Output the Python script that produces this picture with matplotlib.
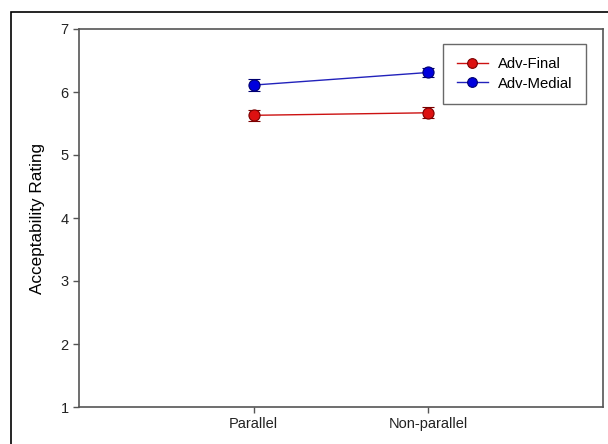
import matplotlib
matplotlib.use("Agg")
import matplotlib.pyplot as plt
from matplotlib.patches import Rectangle
from matplotlib.lines import Line2D

plt.rcParams["font.family"] = ["Liberation Sans", "DejaVu Sans"]

# Condition labels and mean ratings with standard errors
conditions = ["Parallel", "Non-parallel"]
positions = [1, 2]
final_mean = [5.63, 5.67]
final_err = [0.09, 0.085]
medial_mean = [6.11, 6.31]
medial_err = [0.09, 0.067]

fig = plt.figure(figsize=(6.08, 4.44), dpi=100)
ax = fig.add_axes([79 / 608, 1 - 407 / 444, (603 - 79) / 608, (407 - 29) / 444])

# outer frame round the figure
fig.patches.append(Rectangle((11 / 608, -0.1), 1.2, 1 - 12 / 444 + 0.1,
                             transform=fig.transFigure, fill=False,
                             edgecolor="black", linewidth=1.2))

red_style = dict(color="#cc1111", marker="o", mfc="#dd1111",
                 mec="#7a0000", mew=0.8)
blue_style = dict(color="#2222bb", marker="o", mfc="#0000dd",
                  mec="#000070", mew=0.8)

ax.errorbar(positions, final_mean, yerr=final_err, lw=1, ms=8, **red_style,
            ecolor="#7a0000", elinewidth=0.8, capsize=4.5, capthick=0.8)
ax.errorbar(positions, medial_mean, yerr=medial_err, lw=1, ms=8, **blue_style,
            ecolor="#000070", elinewidth=0.8, capsize=4.5, capthick=0.8)

ax.set_xlim(0, 3)
ax.set_ylim(1, 7)
ax.set_xticks(positions)
ax.set_xticklabels(conditions)
ax.set_yticks(range(1, 8))
ax.set_ylabel("Acceptability Rating", fontsize=12.3, labelpad=11)

for s in ax.spines.values():
    s.set_color("#555555")
    s.set_linewidth(1.2)
ax.tick_params(direction="out", length=4, width=1, color="#555555",
               labelsize=10.5, labelcolor="#222222")

handles = [Line2D([], [], lw=1, ms=7, **red_style),
           Line2D([], [], lw=1, ms=7, **blue_style)]
leg = ax.legend(handles, ["Adv-Final", "Adv-Medial"], loc="upper right",
                bbox_to_anchor=(0.968, 0.96), fontsize=10.7, frameon=True,
                fancybox=False, handlelength=2.1, borderpad=0.9,
                labelspacing=0.35, handletextpad=0.7, borderaxespad=0)
leg.get_frame().set_edgecolor("#444444")
leg.get_frame().set_linewidth(1)

fig.savefig("out.png", dpi=100)
